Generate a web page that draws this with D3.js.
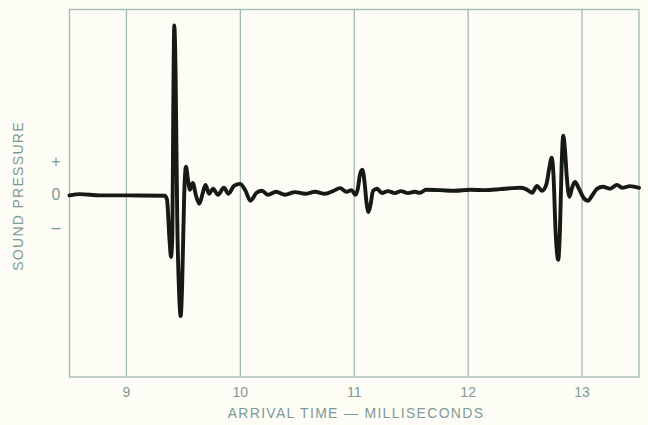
<!DOCTYPE html>
<html>
<head>
<meta charset="utf-8">
<script src="https://cdn.jsdelivr.net/npm/d3@7"></script>
<style>
  html, body { margin: 0; padding: 0; background: #fdfdf6; }
  svg { display: block; }
  text { font-family: "Liberation Sans", "DejaVu Sans", sans-serif; fill: #7f9996; }
</style>
</head>
<body>
<svg id="chart" width="648" height="425"></svg>
<script>
// Arrival time (ms) of each sample of the recorded pressure trace
const timeMs = [
  8.500, 8.592, 8.768, 9.031, 9.338,
  9.356, 9.378, 9.391, 9.403, 9.411, 9.420, 9.431, 9.446, 9.463, 9.476,
  9.489, 9.507, 9.523, 9.540, 9.558, 9.582, 9.611, 9.640, 9.668, 9.694,
  9.725, 9.760, 9.804, 9.856, 9.896, 9.944, 9.997, 10.041, 10.089, 10.142,
  10.190, 10.243, 10.313, 10.392, 10.480, 10.568, 10.656, 10.743, 10.813, 10.875,
  10.932, 10.976,
  11.011, 11.033, 11.050, 11.071, 11.090, 11.108, 11.125, 11.143, 11.165, 11.200,
  11.244, 11.296, 11.358, 11.410, 11.472, 11.533, 11.577, 11.630, 11.753, 11.884,
  12.016, 12.148, 12.279, 12.385, 12.455, 12.508, 12.561, 12.604, 12.648, 12.688,
  12.710, 12.734, 12.749, 12.767, 12.791, 12.806, 12.821, 12.835, 12.850, 12.868,
  12.890, 12.912, 12.938, 12.973, 13.013, 13.052, 13.087, 13.131, 13.184, 13.245,
  13.307, 13.351, 13.421, 13.500
];

// Relative sound pressure at each sample (one unit = the "+" tick)
const pressure = [
  -0.02, 0.02, -0.02, -0.02, -0.03,
  -0.15, -1.36, -1.88, -1.21, 2.58, 5.12, 3.79, -0.76, -3.03, -3.67,
  -2.73, 0.00, 0.85, 0.45, 0.15, 0.36, -0.03, -0.27, 0.03, 0.30,
  0.03, 0.18, 0.00, 0.21, 0.03, 0.27, 0.33, 0.15, -0.18, 0.06,
  0.12, 0.00, 0.09, 0.00, 0.08, 0.03, 0.09, 0.03, 0.11, 0.20,
  0.09, 0.14,
  0.00, 0.21, 0.61, 0.76, 0.39, -0.24, -0.52, -0.30, 0.12, 0.18,
  0.05, 0.11, 0.05, 0.11, 0.05, 0.09, 0.06, 0.15, 0.14, 0.12,
  0.15, 0.14, 0.17, 0.20, 0.21, 0.17, 0.06, 0.27, 0.12, 0.33,
  0.76, 1.12, 0.61, -1.06, -1.97, -1.06, 0.91, 1.79, 1.36, 0.45,
  -0.06, 0.21, 0.39, 0.18, -0.09, -0.18, -0.03, 0.18, 0.24, 0.18,
  0.30, 0.21, 0.26, 0.21
];

// Axis ticks
const xTicks = [9, 10, 11, 12, 13];
const xTickLabels = ["9", "10", "11", "12", "13"];
const yTicks = [1, 0, -1];
const yTickLabels = ["+", "0", "\u2013"];

const xTitle = "ARRIVAL TIME \u2014 MILLISECONDS";
const yTitle = "SOUND PRESSURE";

const svg = d3.select("#chart");
const W = 648, H = 425;
const plotLeft = 69.5, plotRight = 639, plotTop = 9.5, plotBottom = 377;

svg.append("rect").attr("width", W).attr("height", H).attr("fill", "#fdfdf6");

const x = d3.scaleLinear().domain([8.5, 13.5]).range([plotLeft, plotRight]);
const y = d3.scaleLinear().domain([-5.515, 5.606]).range([plotBottom, plotTop]);

const gridColor = "#a3b8b3";

// Plot frame
svg.append("rect")
  .attr("x", plotLeft).attr("y", plotTop)
  .attr("width", plotRight - plotLeft).attr("height", plotBottom - plotTop)
  .attr("fill", "none")
  .attr("stroke", gridColor)
  .attr("stroke-width", 1.3);

// Vertical grid lines at whole milliseconds
svg.append("g")
  .selectAll("line")
  .data(xTicks)
  .join("line")
  .attr("x1", d => x(d)).attr("x2", d => x(d))
  .attr("y1", plotTop).attr("y2", plotBottom)
  .attr("stroke", gridColor)
  .attr("stroke-width", 1.3);

// X tick labels
svg.append("g")
  .selectAll("text")
  .data(xTicks)
  .join("text")
  .attr("x", d => x(d))
  .attr("y", 397)
  .attr("text-anchor", "middle")
  .attr("font-size", 14)
  .text((d, i) => xTickLabels[i]);

// Y tick labels (+ / 0 / -)
svg.append("g")
  .selectAll("text")
  .data(yTicks)
  .join("text")
  .attr("x", 56)
  .attr("y", d => y(d) + 5.5)
  .attr("text-anchor", "middle")
  .attr("font-size", 16)
  .text((d, i) => yTickLabels[i]);

// Axis titles
svg.append("text")
  .attr("x", 356)
  .attr("y", 418)
  .attr("text-anchor", "middle")
  .attr("font-size", 14)
  .attr("letter-spacing", 1.3)
  .text(xTitle);

svg.append("text")
  .attr("transform", "translate(23,196) rotate(-90)")
  .attr("text-anchor", "middle")
  .attr("font-size", 14)
  .attr("letter-spacing", 1.3)
  .text(yTitle);

// Pressure trace
const samples = timeMs.map((t, i) => ({ t, p: pressure[i] }));
const line = d3.line()
  .x(d => x(d.t))
  .y(d => y(d.p))
  .curve(d3.curveMonotoneX);

svg.append("path")
  .datum(samples)
  .attr("d", line)
  .attr("fill", "none")
  .attr("stroke", "#161a14")
  .attr("stroke-width", 3.9)
  .attr("stroke-linejoin", "round")
  .attr("stroke-linecap", "round");
</script>
</body>
</html>
